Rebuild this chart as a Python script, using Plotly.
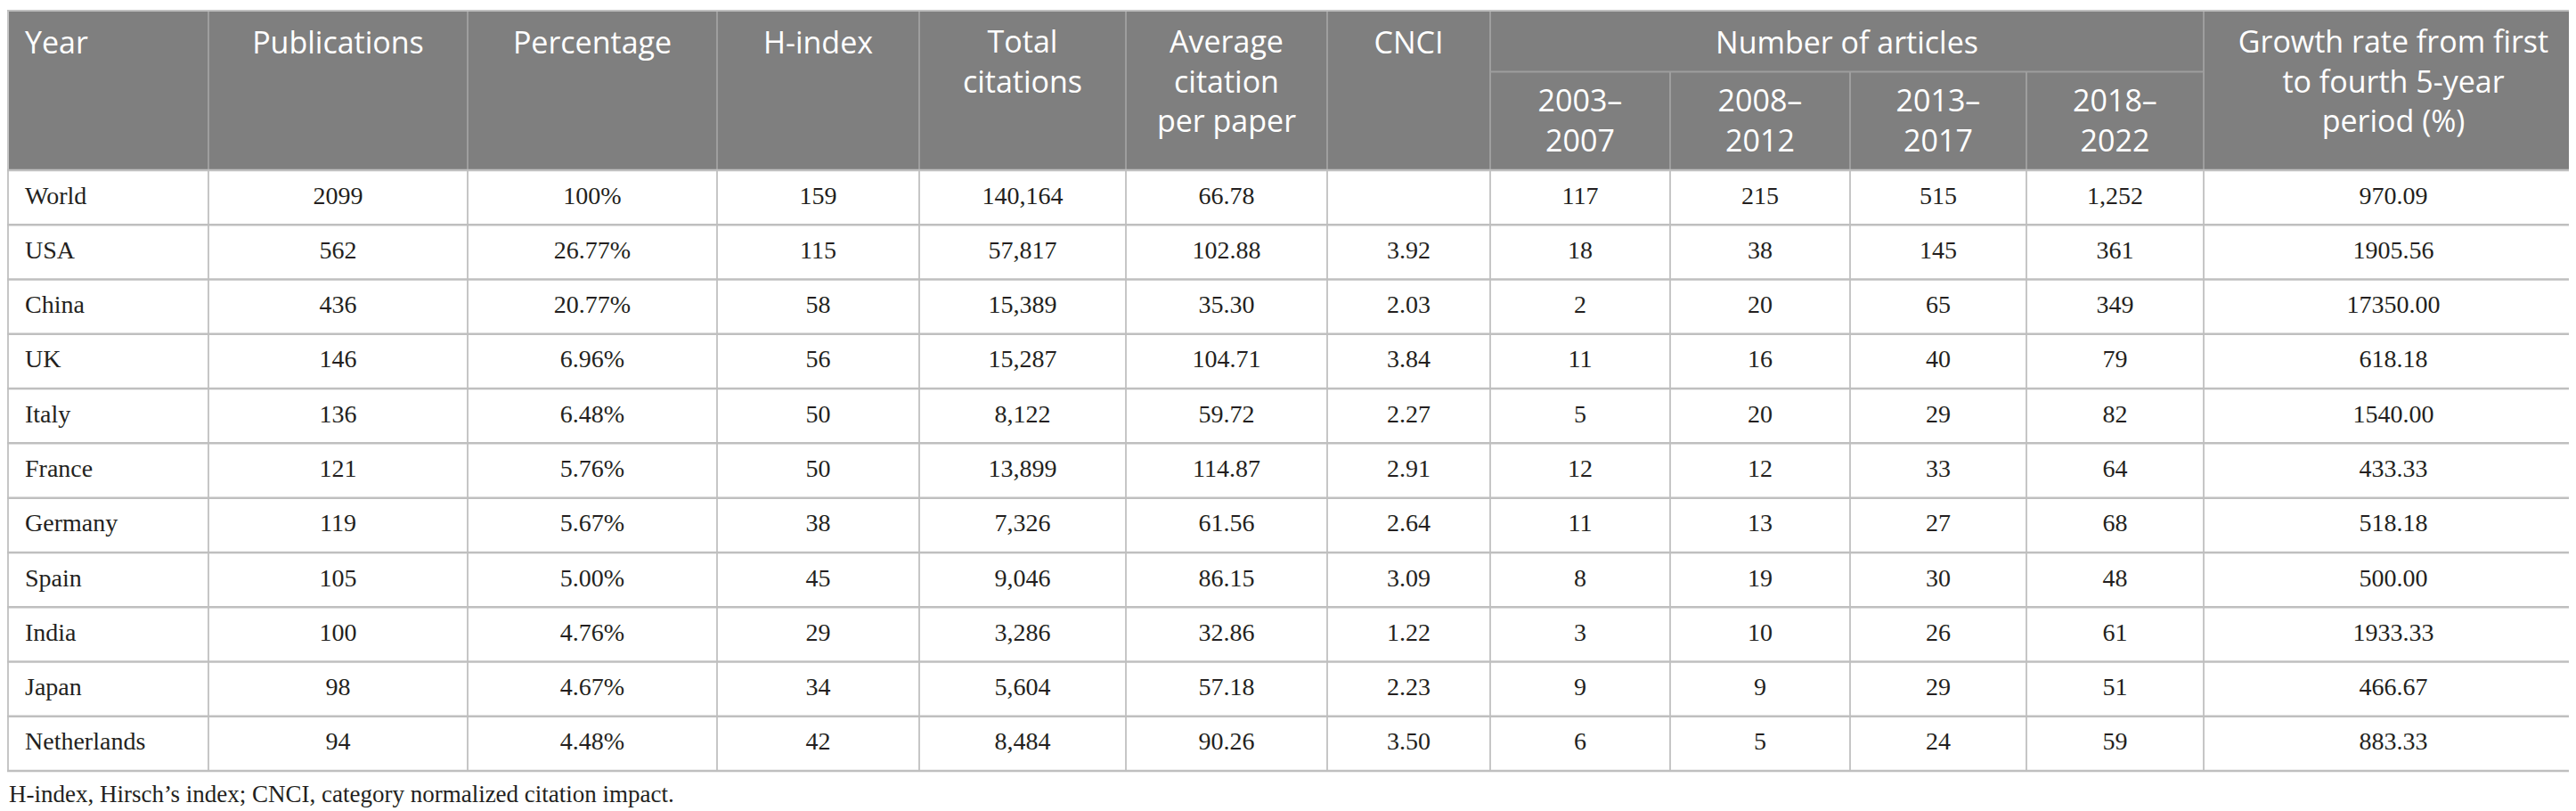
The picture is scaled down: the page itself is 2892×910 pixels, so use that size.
import plotly.graph_objects as go

# ---------------- data ----------------
countries = ["World", "USA", "China", "UK", "Italy", "France", "Germany",
             "Spain", "India", "Japan", "Netherlands"]
publications = [2099, 562, 436, 146, 136, 121, 119, 105, 100, 98, 94]
percentage = ["100%", "26.77%", "20.77%", "6.96%", "6.48%", "5.76%", "5.67%",
              "5.00%", "4.76%", "4.67%", "4.48%"]
h_index = [159, 115, 58, 56, 50, 50, 38, 45, 29, 34, 42]
total_citations = [140164, 57817, 15389, 15287, 8122, 13899, 7326, 9046,
                   3286, 5604, 8484]
avg_citation = ["66.78", "102.88", "35.30", "104.71", "59.72", "114.87",
                "61.56", "86.15", "32.86", "57.18", "90.26"]
cnci = ["", "3.92", "2.03", "3.84", "2.27", "2.91", "2.64", "3.09", "1.22",
        "2.23", "3.50"]
articles_2003_2007 = [117, 18, 2, 11, 5, 12, 11, 8, 3, 9, 6]
articles_2008_2012 = [215, 38, 20, 16, 20, 12, 13, 19, 10, 9, 5]
articles_2013_2017 = [515, 145, 65, 40, 29, 33, 27, 30, 26, 29, 24]
articles_2018_2022 = [1252, 361, 349, 79, 82, 64, 68, 48, 61, 51, 59]
growth_rate = ["970.09", "1905.56", "17350.00", "618.18", "1540.00",
               "433.33", "518.18", "500.00", "1933.33", "466.67", "883.33"]

header_labels = ["Year", "Publications", "Percentage", "H-index",
                 "Total<br>citations", "Average<br>citation<br>per paper",
                 "CNCI", None, None, None, None,
                 "Growth rate from first<br>to fourth 5-year<br>period (%)"]
group_label = "Number of articles"
period_labels = ["2003–<br>2007", "2008–<br>2012", "2013–<br>2017",
                 "2018–<br>2022"]
footnote = "H-index, Hirsch’s index; CNCI, category normalized citation impact."

def fmt_int(v):
    return f"{v:,}"

columns = [
    countries,
    [str(v) for v in publications],
    percentage,
    [str(v) for v in h_index],
    [fmt_int(v) for v in total_citations],
    avg_citation,
    cnci,
    [str(v) for v in articles_2003_2007],
    [str(v) for v in articles_2008_2012],
    [str(v) for v in articles_2013_2017],
    [fmt_int(v) for v in articles_2018_2022],
    growth_rate,
]

# ---------------- layout geometry ----------------
W, H = 2892, 910
col_edges = [0, 226, 517, 797, 1024, 1256, 1482, 1665, 1867, 2069, 2267,
             2466, 2892]
group_cols = (7, 11)          # column index range spanned by the group label
top_y = 4
sub_y = 72.5
head_bottom = 183
body_bottom = 857
n_rows = len(countries)
row_h = (body_bottom - head_bottom) / n_rows
row_edges = [head_bottom + i * row_h for i in range(n_rows + 1)]
row_centers = [(row_edges[i] + row_edges[i + 1]) / 2 for i in range(n_rows)]
col_centers = [(col_edges[i] + col_edges[i + 1]) / 2 for i in range(len(col_edges) - 1)]
left_pad = 20

HEAD_FILL = "#7f7f7f"
HEAD_LINE = "#9e9e9e"
ROW_LINE = "#bfbfbf"
VLINE = "#c6c6c6"
BODY_FONT = dict(family="Liberation Serif", size=28, color="#231f20")
HEAD_SIZE = 34
HEAD_FONT = dict(family="Open Sans", size=HEAD_SIZE, color="white")
LINE_SP = 1.3 * HEAD_SIZE     # plotly's multi-line spacing
first_line_y = 43
sub_first_y = 109

fig = go.Figure()

# body cell texts
for j, col in enumerate(columns):
    fig.add_trace(go.Scatter(
        x=[col_edges[0] + left_pad if j == 0 else col_centers[j]] * n_rows,
        y=row_centers, text=col, mode="text",
        textposition="middle right" if j == 0 else "middle center",
        textfont=BODY_FONT, hoverinfo="skip", showlegend=False))

# header texts (one text element per header cell)
def add_label(label, x, y_first, pos):
    n = len(label.split("<br>"))
    fig.add_trace(go.Scatter(
        x=[x], y=[y_first + (n - 1) * LINE_SP / 2], text=[label],
        mode="text", textposition=pos, textfont=HEAD_FONT,
        hoverinfo="skip", showlegend=False))

for j, lab in enumerate(header_labels):
    if lab is None:
        continue
    if j == 0:
        add_label(lab, col_edges[0] + left_pad, first_line_y, "middle right")
    else:
        add_label(lab, col_centers[j], first_line_y, "middle center")

g0, g1 = group_cols
add_label(group_label, (col_edges[g0] + col_edges[g1]) / 2, first_line_y,
          "middle center")
for k, lab in enumerate(period_labels):
    add_label(lab, col_centers[g0 + k], sub_first_y, "middle center")

# footnote
fig.add_trace(go.Scatter(
    x=[2], y=[885], text=[footnote], mode="text", textposition="middle right",
    textfont=dict(family="Liberation Serif", size=27, color="#231f20"),
    hoverinfo="skip", showlegend=False))

# shapes: header background and grid
shapes = [dict(type="rect", xref="x", yref="y", x0=0, x1=W, y0=top_y,
               y1=head_bottom, fillcolor=HEAD_FILL, line=dict(width=0),
               layer="below")]
# header vertical dividers
for i, xe in enumerate(col_edges[1:-1], start=1):
    ys = sub_y if g0 < i < g1 else top_y
    shapes.append(dict(type="line", xref="x", yref="y", x0=xe, x1=xe, y0=ys,
                       y1=head_bottom, line=dict(color=HEAD_LINE, width=2)))
shapes.append(dict(type="line", xref="x", yref="y", x0=col_edges[g0],
                   x1=col_edges[g1], y0=sub_y, y1=sub_y,
                   line=dict(color=HEAD_LINE, width=2)))
# body vertical lines
for xe in col_edges[1:-1]:
    shapes.append(dict(type="line", xref="x", yref="y", x0=xe, x1=xe,
                       y0=head_bottom, y1=body_bottom,
                       line=dict(color=VLINE, width=2)))
# outer verticals
for xe in (col_edges[0] + 1, col_edges[-1] - 1):
    shapes.append(dict(type="line", xref="x", yref="y", x0=xe, x1=xe,
                       y0=top_y, y1=body_bottom,
                       line=dict(color=VLINE, width=2)))
# horizontal lines
shapes.append(dict(type="line", xref="x", yref="y", x0=0, x1=W, y0=top_y,
                   y1=top_y, line=dict(color=ROW_LINE, width=2)))
for ye in row_edges:
    shapes.append(dict(type="line", xref="x", yref="y", x0=0, x1=W, y0=ye,
                       y1=ye, line=dict(color=ROW_LINE, width=2.5)))

fig.update_layout(
    width=W, height=H, margin=dict(l=0, r=0, t=0, b=0),
    paper_bgcolor="white", plot_bgcolor="white",
    xaxis=dict(range=[0, W], visible=False, fixedrange=True),
    yaxis=dict(range=[H, 0], visible=False, fixedrange=True),
    shapes=shapes, showlegend=False,
)

fig.write_html("out.html", config={"displayModeBar": False})
